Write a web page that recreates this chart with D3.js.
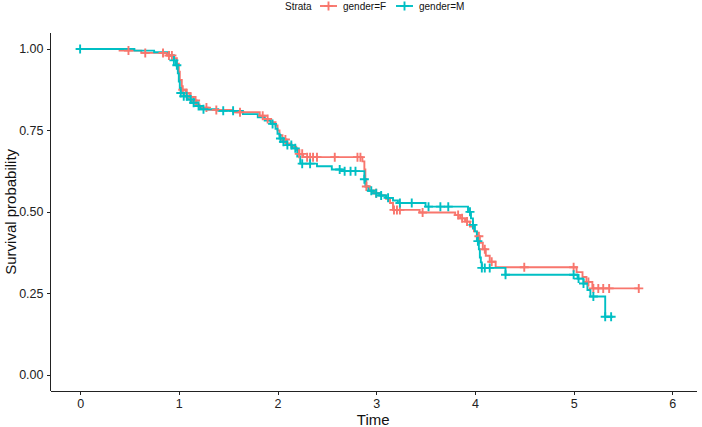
<!DOCTYPE html>
<html lang="en">
<head>
  <meta charset="UTF-8">
  <title>Survival curves by gender</title>
  <style>
    body { margin: 0; background: #fff; font-family: "Liberation Sans", Arial, sans-serif; }
    .axis path, .axis line { stroke: #222; shape-rendering: crispEdges; }
    .axis text { fill: #222; font-size: 12.5px; font-family: "Liberation Sans", Arial, sans-serif; }
  </style>
  <script src="https://d3js.org/d3.v7.min.js"></script>
</head>
<body>
  <div id="chart"></div>
  <script>
    // strata
    var strata = ['gender=F', 'gender=M'];
    var colors = ['#F8766D', '#00BFC4'];

    // step times and survival (female)
    var fTime = [0, 0.40, 0.62, 0.88, 0.95, 0.98, 1.00, 1.01, 1.03, 1.07, 1.11, 1.15, 1.18, 1.21, 1.30, 1.55,
      1.82, 1.87, 1.93, 1.98, 2.00, 2.02, 2.05, 2.09, 2.14, 2.19, 2.22, 2.26, 2.86, 2.88, 2.89, 2.90, 2.93,
      2.98, 3.05, 3.10, 3.14, 3.17, 3.44, 3.80, 3.85, 3.90, 3.95, 3.99, 4.02, 4.05, 4.08, 4.11, 4.15, 4.21,
      5.03, 5.09, 5.13, 5.19, 5.66];
    var fSurv = [1.0, 0.995, 0.988, 0.98, 0.972, 0.955, 0.93, 0.905, 0.875, 0.864, 0.853, 0.842, 0.83, 0.82, 0.813, 0.806,
      0.795, 0.785, 0.775, 0.765, 0.75, 0.735, 0.722, 0.71, 0.70, 0.69, 0.678, 0.668, 0.655, 0.63, 0.60, 0.578, 0.566,
      0.557, 0.55, 0.54, 0.527, 0.506, 0.498, 0.49, 0.48, 0.47, 0.455, 0.44, 0.425, 0.405, 0.385, 0.365, 0.347, 0.33,
      0.315, 0.30, 0.285, 0.265, 0.265];
    var fCensor = [0.49, 0.66, 0.84, 0.90, 0.93, 1.04, 1.08, 1.12, 1.17, 1.28, 1.38, 1.62, 1.85, 1.90, 2.08, 2.22,
      2.25, 2.30, 2.33, 2.36, 2.40, 2.58, 2.81, 2.84, 2.90, 3.00, 3.18, 3.21, 3.24, 3.47, 3.83, 3.87, 3.92, 4.04,
      4.10, 4.17, 4.50, 5.00, 5.15, 5.20, 5.25, 5.30, 5.36, 5.66];

    // step times and survival (male)
    var mTime = [0, 0.55, 0.75, 0.90, 0.95, 0.97, 0.99, 1.00, 1.01, 1.02, 1.05, 1.09, 1.13, 1.17, 1.22, 1.40, 1.65,
      1.80, 1.87, 1.93, 1.98, 2.00, 2.02, 2.05, 2.09, 2.15, 2.20, 2.23, 2.40, 2.55, 2.65, 2.88, 2.89, 2.92, 2.97,
      3.03, 3.10, 3.17, 3.22, 3.50, 3.93, 3.96, 3.98, 4.00, 4.02, 4.04, 4.05, 4.06, 4.07, 4.31, 5.04, 5.10, 5.14,
      5.17, 5.32, 5.40];
    var mSurv = [1.0, 0.995, 0.99, 0.98, 0.965, 0.95, 0.925, 0.90, 0.88, 0.865, 0.855, 0.845, 0.835, 0.825, 0.815, 0.81, 0.80,
      0.79, 0.78, 0.77, 0.755, 0.74, 0.725, 0.715, 0.705, 0.695, 0.67, 0.648, 0.64, 0.63, 0.625, 0.60, 0.578, 0.565, 0.557,
      0.55, 0.543, 0.535, 0.527, 0.516, 0.50, 0.48, 0.46, 0.44, 0.41, 0.385, 0.36, 0.345, 0.328, 0.307, 0.295, 0.28, 0.26,
      0.24, 0.178, 0.178];
    var mCensor = [0, 0.95, 0.98, 1.02, 1.05, 1.08, 1.12, 1.15, 1.20, 1.25, 1.45, 1.55, 1.95, 2.03, 2.06, 2.10, 2.14,
      2.18, 2.25, 2.33, 2.63, 2.68, 2.74, 2.79, 2.88, 2.95, 3.00, 3.05, 3.12, 3.24, 3.36, 3.53, 3.65, 3.73, 3.95,
      3.98, 4.03, 4.07, 4.10, 4.15, 4.31, 5.00, 5.05, 5.10, 5.20, 5.32, 5.38];

    var xTicks = [0, 1, 2, 3, 4, 5, 6];
    var yTicks = [0, 0.25, 0.5, 0.75, 1];

    var W = 702, H = 427;
    var margin = {left: 50.5, right: 697, top: 32.7, bottom: 391};

    var x = d3.scaleLinear().domain([-0.3, 6.25]).range([margin.left, margin.right]);
    var y = d3.scaleLinear().domain([-0.05, 1.05]).range([margin.bottom, margin.top]);

    var svg = d3.select('#chart').append('svg').attr('width', W).attr('height', H);

    svg.append('g').attr('class', 'x axis')
      .attr('transform', 'translate(0,' + margin.bottom + ')')
      .call(d3.axisBottom(x).tickValues(xTicks).tickFormat(d3.format('d')).tickSize(4).tickPadding(4).tickSizeOuter(0))
      .call(function(g) { g.select('.domain').attr('d', 'M' + margin.left + ',0.5H' + margin.right); });

    svg.append('g').attr('class', 'y axis')
      .attr('transform', 'translate(' + margin.left + ',0)')
      .call(d3.axisLeft(y).tickValues(yTicks).tickFormat(d3.format('.2f')).tickSize(4).tickPadding(3).tickSizeOuter(0))
      .call(function(g) { g.select('.domain').attr('d', 'M-0.5,' + margin.top + 'V' + margin.bottom); });

    svg.append('text').attr('x', (margin.left + margin.right) / 2 - 0.5).attr('y', 425)
      .attr('text-anchor', 'middle').style('font-size', '15px').attr('fill', '#111').text('Time');
    svg.append('text').attr('transform', 'translate(16,' + ((margin.top + margin.bottom) / 2) + ') rotate(-90)')
      .attr('text-anchor', 'middle').style('font-size', '15px').attr('fill', '#111').text('Survival probability');

    var series = [
      {time: fTime, surv: fSurv, censor: fCensor, color: colors[0]},
      {time: mTime, surv: mSurv, censor: mCensor, color: colors[1]}
    ];

    function survAt(s, t) {
      var i = d3.bisectRight(s.time, t) - 1;
      return s.surv[Math.max(0, i)];
    }

    var line = d3.line()
      .x(function(d) { return x(d[0]); })
      .y(function(d) { return y(d[1]); })
      .curve(d3.curveStepAfter);

    var plot = svg.append('g');
    series.forEach(function(s) {
      plot.append('path')
        .datum(d3.zip(s.time, s.surv))
        .attr('d', line)
        .attr('fill', 'none')
        .attr('stroke', s.color)
        .attr('stroke-width', 1.9);
    });

    var plus = 'M-4.5,0H4.5M0,-4.5V4.5';
    series.forEach(function(s) {
      plot.selectAll(null).data(s.censor).enter().append('path')
        .attr('d', plus)
        .attr('transform', function(t) { return 'translate(' + x(t) + ',' + y(survAt(s, t)) + ')'; })
        .attr('stroke', s.color)
        .attr('stroke-width', 1.9)
        .attr('fill', 'none');
    });

    // legend
    var legend = svg.append('g').attr('transform', 'translate(0,6)');
    legend.append('text').attr('x', 285).attr('y', 3.5).style('font-size', '10px').attr('fill', '#111').text('Strata');
    var keyX = [320, 396], labX = [343, 419];
    strata.forEach(function(name, i) {
      legend.append('line').attr('x1', keyX[i]).attr('x2', keyX[i] + 17).attr('y1', 0).attr('y2', 0)
        .attr('stroke', colors[i]).attr('stroke-width', 1.9);
      legend.append('path').attr('d', plus).attr('transform', 'translate(' + (keyX[i] + 8.5) + ',0)')
        .attr('stroke', colors[i]).attr('stroke-width', 1.9);
      legend.append('text').attr('x', labX[i]).attr('y', 3.5).style('font-size', '10px').attr('fill', '#111').text(name);
    });
  </script>
</body>
</html>
